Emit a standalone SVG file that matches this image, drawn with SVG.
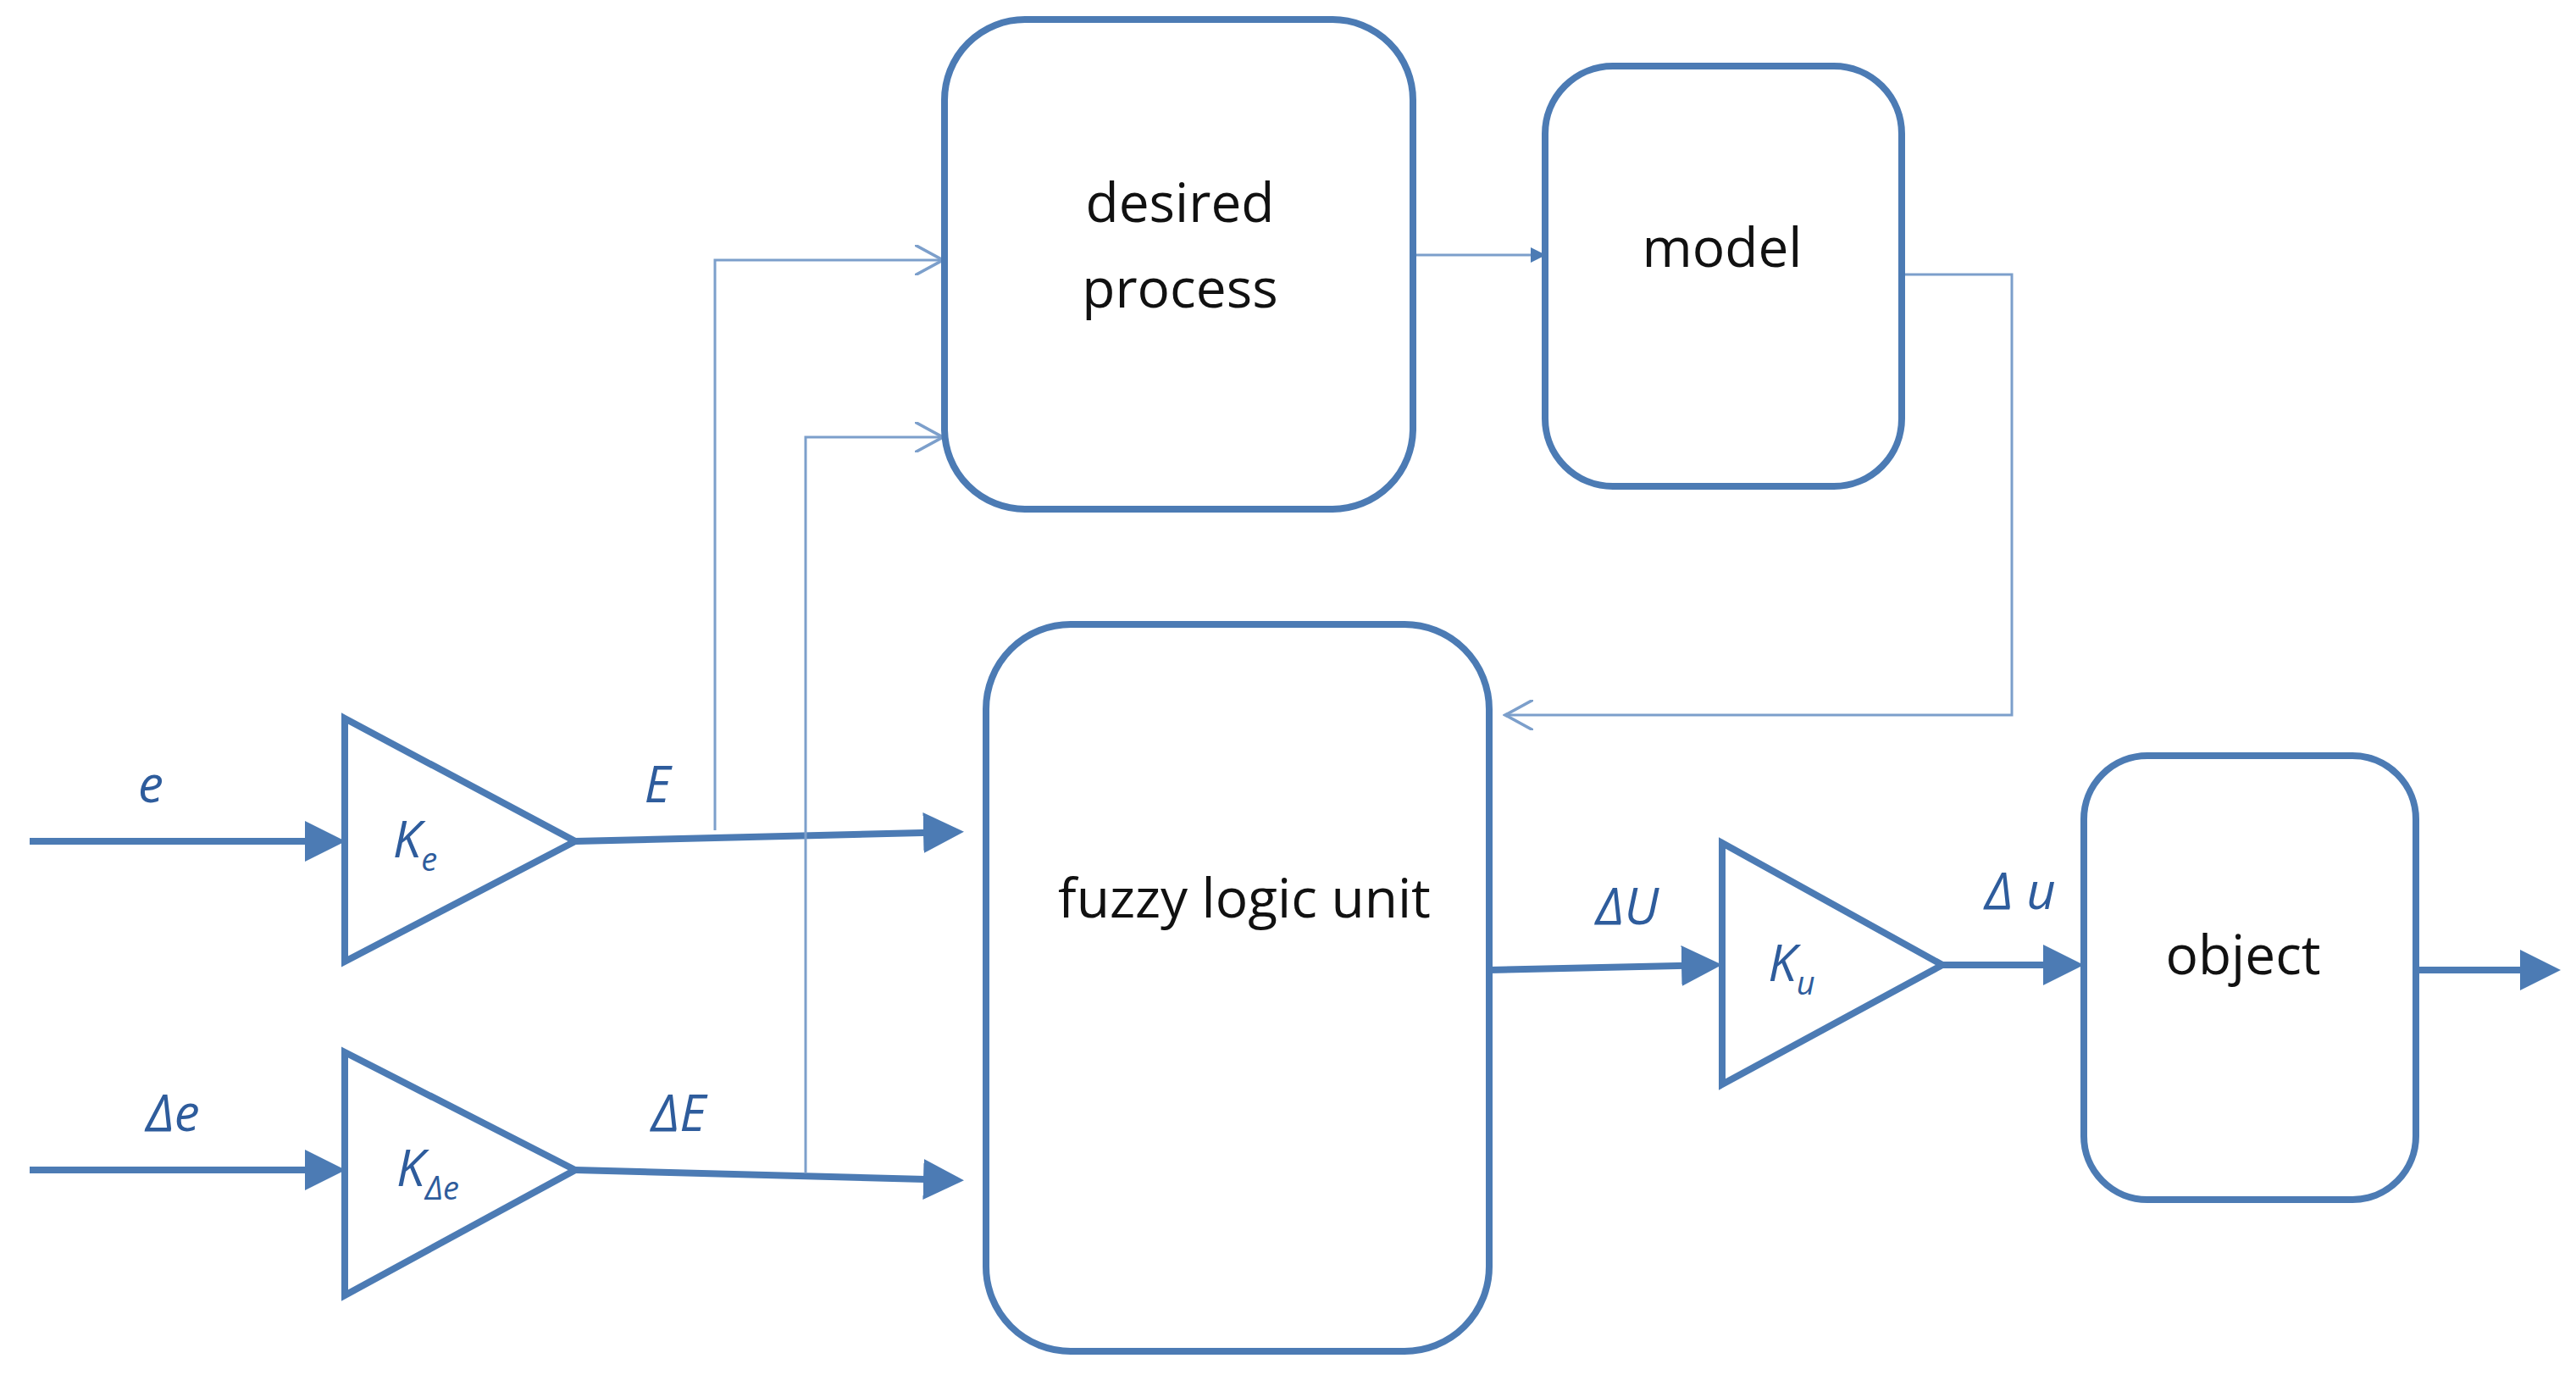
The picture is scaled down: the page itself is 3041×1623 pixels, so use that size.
<svg xmlns="http://www.w3.org/2000/svg" width="3041" height="1623" viewBox="0 0 3041 1623">
<style>
.b{fill:#fff;stroke:#4c7bb4;stroke-width:8}
.t{font-family:"Open Sans","Liberation Sans",sans-serif;font-size:64px;fill:#111;text-anchor:middle}
.i{font-family:"Open Sans","Liberation Sans",sans-serif;font-style:italic;font-size:60px;fill:#2e5c9c;text-anchor:middle}
.s{font-size:38px}
.th{fill:none;stroke:#4c7bb4;stroke-width:8}
.tn{fill:none;stroke:#7c9fcb;stroke-width:3}
</style>
<defs>
<marker id="a" markerWidth="6" markerHeight="6" refX="5" refY="3" orient="auto" markerUnits="strokeWidth"><path d="M0,0 L6,3 L0,6 z" fill="#4c7bb4"/></marker>
<marker id="o" markerWidth="12" markerHeight="12" refX="11" refY="6" orient="auto" markerUnits="strokeWidth"><path d="M0,0 L11,6 L0,12" fill="none" stroke="#7c9fcb" stroke-width="1.2"/></marker>
</defs>
<g id="connectors">
<line class="th" x1="35" y1="993" x2="400" y2="993" marker-end="url(#a)"/>
<line class="th" x1="35" y1="1381" x2="400" y2="1381" marker-end="url(#a)"/>
<line class="th" x1="679" y1="993" x2="1130" y2="982" marker-end="url(#a)"/>
<line class="th" x1="679" y1="1381" x2="1130" y2="1393" marker-end="url(#a)"/>
<line class="th" x1="1758" y1="1145" x2="2025" y2="1139" marker-end="url(#a)"/>
<line class="th" x1="2293" y1="1139" x2="2452" y2="1139" marker-end="url(#a)"/>
<line class="th" x1="2852" y1="1145" x2="3015" y2="1145" marker-end="url(#a)"/>
<polyline class="tn" points="844,980 844,307 1113,307" marker-end="url(#o)"/>
<polyline class="tn" points="951,1385 951,516 1113,516" marker-end="url(#o)"/>
<line class="tn" x1="1668" y1="301" x2="1822" y2="301" marker-end="url(#a)"/>
<polyline class="tn" points="2245,324 2375,324 2375,844 1777,844" marker-end="url(#o)"/>
</g>
<g id="desired"><rect class="b" x="1115" y="23" width="553" height="578" rx="95"/><text class="t" x="1393" y="262">desired</text><text class="t" x="1393" y="363">process</text></g>
<g id="model"><rect class="b" x="1824" y="78" width="421" height="496" rx="80"/><text class="t" x="2033" y="315">model</text></g>
<g id="fuzzy"><rect class="b" x="1164" y="737" width="594" height="858" rx="100"/><text class="t" x="1469" y="1083">fuzzy logic unit</text></g>
<g id="object"><rect class="b" x="2460" y="892" width="392" height="524" rx="75"/><text class="t" x="2648" y="1150">object</text></g>
<g id="Ke"><polygon class="b" points="407,848 679,993 407,1135"/><text class="i" x="490" y="1012">K<tspan class="s" dy="16">e</tspan></text></g>
<g id="KDe"><polygon class="b" points="407,1242 679,1381 407,1529"/><text class="i" x="505" y="1400">K<tspan class="s" dy="16">Δe</tspan></text></g>
<g id="Ku"><polygon class="b" points="2033,995 2293,1139 2033,1280"/><text class="i" x="2115" y="1158">K<tspan class="s" dy="16">u</tspan></text></g>
<g id="labels">
<text class="i" x="178" y="947">e</text>
<text class="i" x="776" y="947">E</text>
<text class="i" x="204" y="1335">Δe</text>
<text class="i" x="801" y="1335">ΔE</text>
<text class="i" x="1921" y="1091">ΔU</text>
<text class="i" x="2385" y="1073">Δ u</text>
</g>
</svg>
